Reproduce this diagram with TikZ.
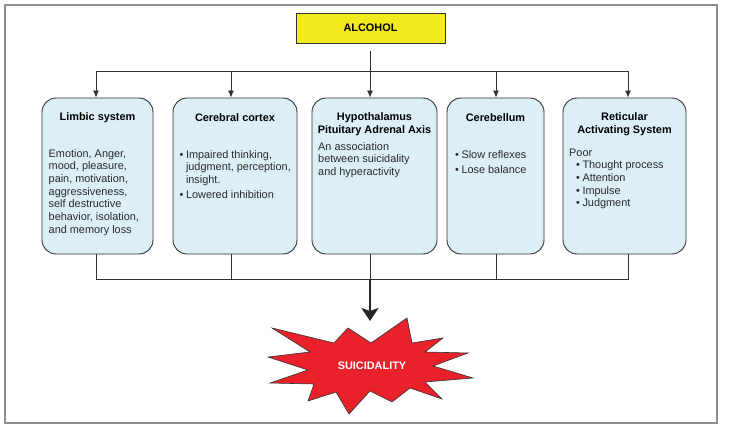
\documentclass[tikz,border=0pt]{standalone}
\usepackage{fontspec}
\setmainfont{Liberation Sans}
\usetikzlibrary{arrows.meta}
\definecolor{linec}{HTML}{333333}
\definecolor{boxblue}{HTML}{DCEEF6}
\definecolor{alcyellow}{HTML}{F2EA1C}
\definecolor{burstred}{HTML}{E8212A}
\definecolor{framegrey}{HTML}{8E8E8E}
\definecolor{bodytext}{HTML}{2A2A2A}
\newcommand{\fsz}{\fontsize{10.9}{12.7}\selectfont}
\tikzset{
  sysbox/.style={draw=linec, fill=boxblue, rounded corners=14pt, line width=0.9pt, minimum height=156pt, inner sep=0pt},
  ttl/.style={font=\fsz\bfseries, align=center, inner sep=0pt, text=black},
  body/.style={font=\fsz, align=left, anchor=north west, inner sep=0pt, text=bodytext},
  arr/.style={draw=linec, line width=0.8pt, -{Latex[length=7pt,width=6pt]}},
  ln/.style={draw=linec, line width=0.8pt},
  bigarr/.style={draw=black!85, line width=2pt, -{Stealth[length=13pt,width=17pt,inset=3pt]}},
  burst/.style={draw=black!80, fill=burstred, line width=0.6pt, line join=miter}
}
\begin{document}
\begin{tikzpicture}[x=1pt,y=-1pt]
\useasboundingbox (0,0) rectangle (729,433);
\draw[framegrey, line width=1.2pt] (5,5) rectangle (717,423);

% top node
\node[draw=linec, fill=alcyellow, line width=0.9pt, minimum width=149pt, minimum height=30pt, inner sep=0pt,
      font=\fsz\bfseries] (alc) at (370.5,28) {ALCOHOL};

% boxes
\node[sysbox, minimum width=111pt] (lim) at (97.5,176) {};
\node[sysbox, minimum width=124pt] (cer) at (235,176) {};
\node[sysbox, minimum width=125pt] (hyp) at (374.5,176) {};
\node[sysbox, minimum width=97pt]  (cbl) at (495.5,176) {};
\node[sysbox, minimum width=123pt] (ret) at (624.5,176) {};

% titles
\node[ttl] (limt) at (97.5,118) {Limbic system};
\node[ttl] (cert) at (235,118) {Cerebral cortex};
\node[ttl] (hypt) at (374.5,124.5) {Hypothalamus\\Pituitary Adrenal Axis};
\node[ttl] (cblt) at (495.5,118) {Cerebellum};
\node[ttl] (rett) at (624.5,124.5) {Reticular\\Activating System};

% bodies
\node[body] (limb) at (48.5,149) {Emotion, Anger,\\mood, pleasure,\\pain, motivation,\\aggressiveness,\\self destructive\\behavior, isolation,\\and memory loss};
\node[body] (cerb) at (179.5,149) {\begin{tabular}{@{}l@{\hspace{2.5pt}}l@{}}
\textbullet & Impaired thinking,\\
 & judgment, perception,\\
 & insight.\\[2.5pt]
\textbullet & Lowered inhibition
\end{tabular}};
\node[body] (hypb) at (318,142) {An association\\between suicidality\\and hyperactivity};
\node[body] (cblb) at (455,149) {\begin{tabular}{@{}l@{\hspace{2.5pt}}l@{}}
\textbullet & Slow reflexes\\[2.3pt]
\textbullet & Lose balance
\end{tabular}};
\node[body] (retb) at (569,147) {\begin{tabular}{@{}l@{}}
Poor\\
\hspace{7pt}\textbullet\hspace{2.5pt}Thought process\\
\hspace{7pt}\textbullet\hspace{2.5pt}Attention\\
\hspace{7pt}\textbullet\hspace{2.5pt}Impulse\\
\hspace{7pt}\textbullet\hspace{2.5pt}Judgment
\end{tabular}};

% top connectors
\coordinate (hub) at (370,71);
\coordinate (t1) at (96,71);
\coordinate (t2) at (231,71);
\coordinate (t4) at (496,71);
\coordinate (t5) at (628,71);
\draw[ln, shorten <=8pt] (alc.south -| hub) -- (hub);
\draw[ln] (t1) -- (t5);
\draw[arr] (t1) -- (t1 |- lim.north);
\draw[arr] (t2) -- (t2 |- cer.north);
\draw[arr] (hub) -- (hub |- hyp.north);
\draw[arr] (t4) -- (t4 |- cbl.north);
\draw[arr] (t5) -- (t5 |- ret.north);

% bottom connectors
\coordinate (u1) at (96,279);
\coordinate (u2) at (231,279);
\coordinate (u3) at (370,279);
\coordinate (u4) at (496,279);
\coordinate (u5) at (628,279);
\draw[ln] (u1 |- lim.south) -- (u1) -- (u5) -- (u5 |- ret.south);
\draw[ln] (u2 |- cer.south) -- (u2);
\draw[ln] (u3 |- hyp.south) -- (u3);
\draw[ln] (u4 |- cbl.south) -- (u4);

% starburst
\draw[burst] (407,318) -- (412,343) -- (443,338) -- (425,352) -- (468,353) -- (433,366)
  -- (473,378) -- (425,382) -- (442,399) -- (410,388) -- (392,402) -- (370,391)
  -- (349,414) -- (336,392) -- (308,401) -- (314,384) -- (270,383) -- (308,370)
  -- (268,357) -- (310,352) -- (272,328) -- (334,343) -- (348,328) -- (371,343) -- cycle;
\coordinate (bursttop) at (370,321);
\draw[bigarr] (u3) -- (bursttop);
\node[font=\fsz\bfseries, text=white, inner sep=0pt] (sui) at (372,366) {SUICIDALITY};
\end{tikzpicture}
\end{document}
